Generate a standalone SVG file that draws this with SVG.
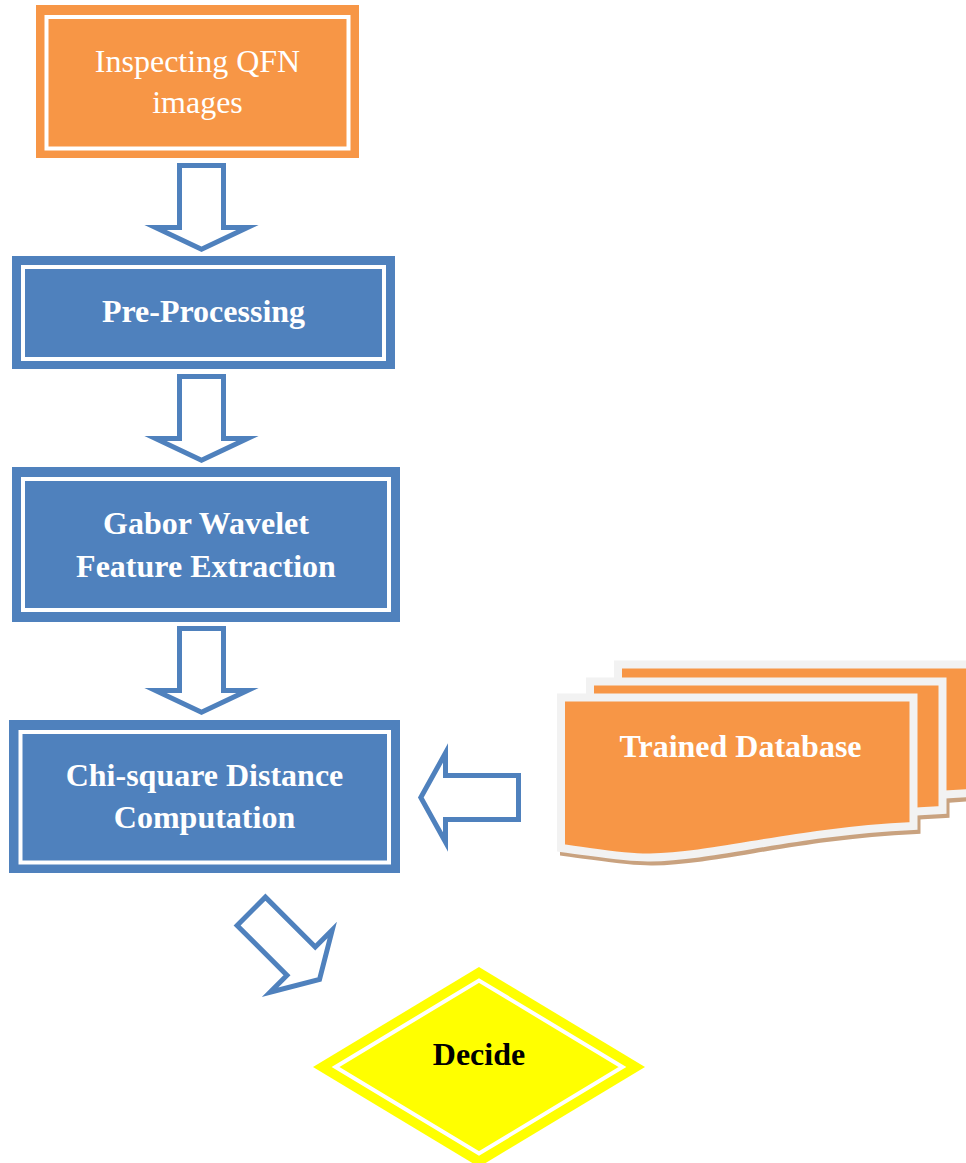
<svg xmlns="http://www.w3.org/2000/svg" width="966" height="1163" viewBox="0 0 966 1163">
  <style>
    .txt { font-family: "Liberation Serif", "Times New Roman", serif; font-size: 32px; text-anchor: middle; }
    .w { fill: #FFFFFF; }
    .b { font-weight: bold; }
    .blue { fill: #4F81BD; }
    .orange { fill: #F79646; }
    .inner { fill: none; stroke: #FFFFFF; stroke-width: 4; }
    .arrow { fill: #FFFFFF; stroke: #4F81BD; stroke-width: 5; stroke-linejoin: miter; stroke-miterlimit: 10; }
    .docshadow { fill: #C9A27F; stroke: #C9A27F; stroke-width: 8; stroke-linejoin: miter; }
    .doc { fill: #F79646; stroke: #F2F2F2; stroke-width: 8; stroke-linejoin: miter; }
  </style>
  <defs>
    <path id="docShape" d="M561,697.5 H913.5 V826 C790,832 720,856 650,857.5 C625,858 600,853 561,848 Z"/>
    <path id="downArrow" d="M179.5,165.5 H223.5 V227.5 H247.5 L201.5,249.3 L155.5,227.5 H179.5 Z"/>
  </defs>
  <rect width="966" height="1163" fill="#FFFFFF"/>

  <g id="connectors">
    <use href="#downArrow" class="arrow"/>
    <use href="#downArrow" class="arrow" transform="translate(0,211)"/>
    <use href="#downArrow" class="arrow" transform="translate(0,463)"/>
    <path id="arrow-db" class="arrow" d="M518.5,775.5 V819.5 H445.5 V842 L420.8,797.5 L445.5,753 V775.5 Z"/>
    <path id="arrow-decide" class="arrow" transform="translate(249.5,909.5) rotate(-45)" d="M-20,2.5 H20 V73 H44 L0,99 L-44,73 H-20 Z"/>
  </g>

  <g id="node-inspect">
    <rect class="orange" x="36" y="5" width="323" height="153"/>
    <rect class="inner" x="46.5" y="17" width="302" height="131.5"/>
    <text class="txt w" x="197.5" y="72">Inspecting QFN</text>
    <text class="txt w" x="197.5" y="113">images</text>
  </g>

  <g id="node-preprocessing">
    <rect class="blue" x="12" y="256" width="383" height="113"/>
    <rect class="inner" x="23" y="267" width="361" height="92"/>
    <text class="txt w b" x="203.5" y="322">Pre-Processing</text>
  </g>

  <g id="node-gabor">
    <rect class="blue" x="12" y="467" width="388" height="155"/>
    <rect class="inner" x="23" y="479" width="366" height="131"/>
    <text class="txt w b" x="206" y="534">Gabor Wavelet</text>
    <text class="txt w b" x="206" y="577">Feature Extraction</text>
  </g>

  <g id="node-chisquare">
    <rect class="blue" x="9" y="720" width="391" height="153"/>
    <rect class="inner" x="20.5" y="732" width="368.5" height="130.5"/>
    <text class="txt w b" x="204.5" y="786">Chi-square Distance</text>
    <text class="txt w b" x="204.5" y="828">Computation</text>
  </g>

  <g id="node-database">
    <use href="#docShape" class="docshadow" transform="translate(60,-29)"/>
    <use href="#docShape" class="docshadow" transform="translate(32,-12)"/>
    <use href="#docShape" class="docshadow" transform="translate(3,4)"/>
    <use href="#docShape" class="doc" transform="translate(57,-33)"/>
    <use href="#docShape" class="doc" transform="translate(29,-16)"/>
    <use href="#docShape" class="doc"/>
    <text class="txt w b" x="740.5" y="757">Trained Database</text>
  </g>

  <g id="node-decide">
    <polygon points="313,1067 479,967 645,1067 479,1167" fill="#FFFF00"/>
    <polygon points="335.5,1067 479,980.5 622.5,1067 479,1153.5" fill="none" stroke="#FFFFFF" stroke-width="4"/>
    <text class="txt b" x="479" y="1065" fill="#000000">Decide</text>
  </g>
</svg>
